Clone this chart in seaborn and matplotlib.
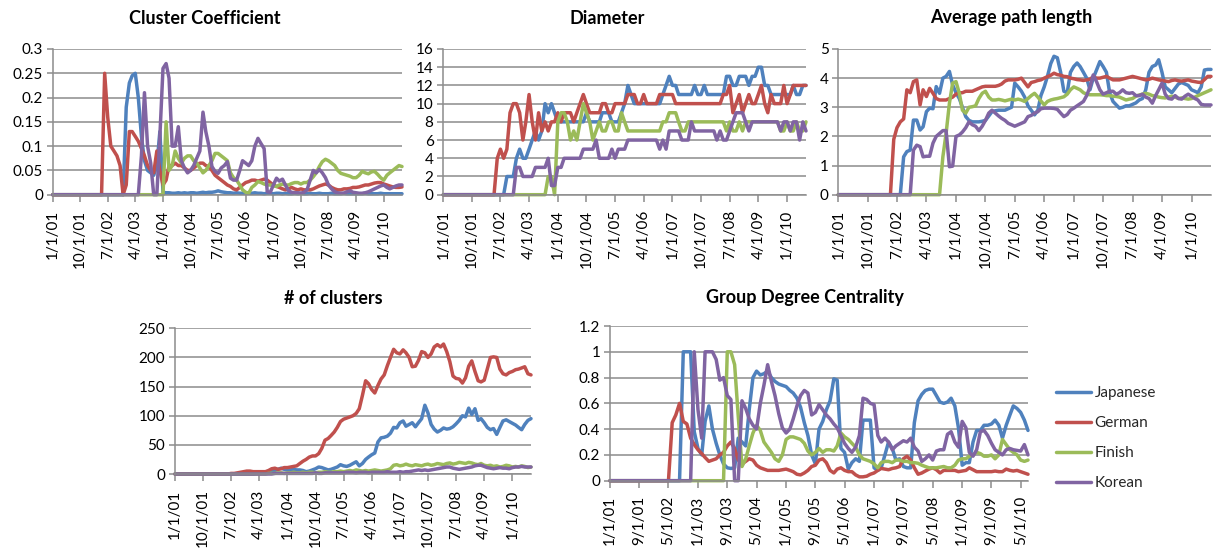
import numpy as np
import pandas as pd
import matplotlib
matplotlib.use('Agg')
import matplotlib.pyplot as plt
import seaborn as sns
from matplotlib.lines import Line2D

# ---------------- data (monthly, 1/1/01 .. 7/1/10) ----------------
languages = ['Japanese', 'German', 'Finish', 'Korean']
colors = ['#4F81BD', '#C0504D', '#9BBB59', '#8064A2']

cc_jp = [0,0,0,0,0,0,0,0,0,0,
         0,0,0,0,0,0,0,0,0,0,
         0,0,0,0,0.18,0.23,0.245,0.25,0.2,0.12,
         0.07,0.05,0.045,0.04,0.06,0.13,0.005,0.004,0.004,0.003,
         0.003,0.004,0.003,0.004,0.003,0.004,0.004,0.003,0.004,0.005,
         0.004,0.005,0.005,0.006,0.008,0.006,0.005,0.004,0.004,0.003,
         0.004,0.003,0.003,0.004,0.003,0.003,0.004,0.003,0.003,0.002,
         0.003,0.003,0.002,0.003,0.003,0.002,0.003,0.002,0.002,0.003,
         0.002,0.003,0.002,0.002,0.003,0.002,0.002,0.003,0.002,0.002,
         0.002,0.003,0.002,0.002,0.002,0.003,0.002,0.002,0.002,0.002,
         0.002,0.002,0.003,0.002,0.002,0.002,0.002,0.003,0.002,0.002,
         0.002,0.002,0.002,0.002,0.002]
cc_de = [0,0,0,0,0,0,0,0,0,0,
         0,0,0,0,0,0,0,0.25,0.16,0.1,
         0.09,0.08,0.06,0.0,0.02,0.13,0.13,0.12,0.11,0.095,
         0.08,0.06,0.05,0.045,0.09,0.05,0.02,0.03,0.06,0.06,
         0.065,0.06,0.06,0.055,0.05,0.05,0.055,0.06,0.065,0.065,
         0.06,0.058,0.05,0.04,0.035,0.03,0.025,0.02,0.017,0.012,
         0.01,0.015,0.02,0.025,0.027,0.03,0.03,0.028,0.03,0.032,
         0.03,0.025,0.02,0.017,0.015,0.012,0.01,0.012,0.015,0.012,
         0.01,0.012,0.01,0.01,0.01,0.012,0.015,0.018,0.02,0.022,
         0.02,0.015,0.012,0.01,0.01,0.012,0.012,0.013,0.015,0.015,
         0.016,0.018,0.02,0.02,0.022,0.024,0.025,0.025,0.022,0.02,
         0.018,0.016,0.015,0.015,0.016]
cc_fi = [0,0,0,0,0,0,0,0,0,0,
         0,0,0,0,0,0,0,0,0,0,
         0,0,0,0,0,0,0,0,0,0,
         0,0,0,0,0,0,0,0.15,0.05,0.06,
         0.09,0.075,0.065,0.075,0.08,0.08,0.07,0.065,0.055,0.045,
         0.05,0.06,0.07,0.085,0.085,0.08,0.075,0.07,0.045,0.035,
         0.03,0.02,0.01,0.005,0.003,0.015,0.02,0.027,0.025,0.022,
         0.02,0.02,0.018,0.017,0.02,0.022,0.02,0.02,0.023,0.025,
         0.025,0.022,0.025,0.025,0.03,0.037,0.045,0.058,0.068,0.073,
         0.07,0.065,0.06,0.05,0.044,0.042,0.04,0.038,0.035,0.035,
         0.04,0.048,0.045,0.043,0.047,0.048,0.042,0.035,0.03,0.04,
         0.045,0.05,0.055,0.06,0.058]
cc_kr = [0,0,0,0,0,0,0,0,0,0,
         0,0,0,0,0,0,0,0,0,0,
         0,0,0,0,0,0,0,0,0,0.08,
         0.21,0.1,0.065,0.0,0.0,0.12,0.26,0.27,0.24,0.1,
         0.1,0.14,0.07,0.055,0.045,0.05,0.06,0.075,0.09,0.17,
         0.13,0.1,0.058,0.048,0.044,0.055,0.06,0.068,0.034,0.03,
         0.03,0.05,0.07,0.065,0.06,0.07,0.1,0.116,0.105,0.095,
         0.006,0.005,0.02,0.034,0.028,0.032,0.02,0.008,0.005,0.004,
         0.004,0.003,0.005,0.01,0.03,0.05,0.045,0.052,0.045,0.035,
         0.02,0.012,0.006,0.004,0.003,0.003,0.006,0.008,0.005,0.004,
         0.003,0.003,0.004,0.006,0.009,0.012,0.015,0.018,0.02,0.015,
         0.012,0.015,0.018,0.02,0.02]

dia_jp = [0,0,0,0,0,0,0,0,0,0,
          0,0,0,0,0,0,0,0,0,0,
          2,2,2,4,5,4,4,5,6,7,
          6,7,10,9,10,9,8,8,8,8,
          8,8,8,8,8,9,8,8,8,8,
          9,9,9,8,8,8,9,10,12,11,
          10,10,10,10,10,10,10,10,10,11,
          12,13,12,12,11,11,11,11,11,12,
          11,11,12,11,11,11,11,11,11,13,
          13,12,12,13,13,13,12,13,13,14,
          14,12,12,11,11,11,11,11,11,11,
          12,11,11,12,12]
dia_de = [0,0,0,0,0,0,0,0,0,0,
          0,0,0,0,0,0,0,4,5,4,
          5,9,10,10,9,6,8,11,8,6,
          9,7,8,7,8,8,9,8,9,9,
          9,8,9,10,11,10,9,9,9,9,
          10,10,9,9,10,10,10,10,11,11,
          11,10,10,11,10,10,10,10,11,11,
          11,11,11,10,10,10,10,10,10,10,
          10,10,10,10,10,10,10,10,11,11,
          12,9,10,11,9,10,11,10,10,11,
          12,10,9,11,10,10,10,12,10,11,
          12,12,12,12,12]
dia_fi = [0,0,0,0,0,0,0,0,0,0,
          0,0,0,0,0,0,0,0,0,0,
          0,0,0,0,0,0,0,0,0,0,
          0,0,0,2,2,0,8,9,9,8,
          6,7,6,8,10,9,8,6,7,8,
          7,7,8,8,7,7,9,8,7,7,
          7,7,7,7,7,7,7,7,7,8,
          8,9,9,9,8,7,7,8,8,8,
          8,8,8,8,8,8,8,8,8,7,
          8,7,7,8,7,8,8,8,8,8,
          8,8,8,8,8,8,7,7,8,7,
          7,8,7,7,8]
dia_kr = [0,0,0,0,0,0,0,0,0,0,
          0,0,0,0,0,0,0,0,0,0,
          0,0,0,3,3,2,2,2,2,3,
          3,3,3,4,1,1,3,3,4,4,
          4,4,4,4,5,5,5,5,6,4,
          4,4,4,5,4,5,5,5,6,6,
          6,6,6,6,6,6,6,6,5,6,
          5,7,7,7,7,6,6,6,8,7,
          7,7,7,7,7,7,6,7,6,6,
          7,8,9,9,9,8,7,8,8,8,
          8,8,8,8,8,8,7,8,8,7,
          8,8,6,8,7]

apl_jp = [0,0,0,0,0,0,0,0,0,0,
          0,0,0,0,0,0,0,0,0,0,
          1.3,1.48,1.53,2.56,2.56,2.22,2.33,2.85,2.97,2.95,
          3.71,3.48,4.0,4.06,4.23,3.77,3.5,3.3,3.0,2.68,
          2.55,2.5,2.5,2.5,2.52,2.55,2.7,2.85,2.88,2.9,
          2.9,2.9,2.95,3.0,3.83,3.7,3.55,3.35,3.05,2.9,
          2.74,2.9,3.4,3.7,4.06,4.5,4.75,4.7,4.2,3.55,
          3.5,4.2,4.4,4.52,4.4,4.2,4.0,3.6,4.0,4.28,
          4.57,4.4,4.2,3.5,3.2,3.08,2.97,3.0,3.05,3.05,
          3.1,3.15,3.25,3.3,3.6,4.2,4.4,4.45,4.63,4.2,
          3.7,3.6,3.5,3.65,3.8,3.85,3.8,3.75,3.6,3.55,
          3.5,3.7,4.28,4.3,4.3]
apl_de = [0,0,0,0,0,0,0,0,0,0,
          0,0,0,0,0,0,0,1.9,2.3,2.5,
          2.6,3.6,3.5,3.88,3.94,3.08,3.6,3.37,3.65,3.48,
          3.3,3.25,3.25,3.25,3.3,3.35,3.45,3.5,3.5,3.55,
          3.55,3.55,3.6,3.65,3.7,3.72,3.72,3.72,3.72,3.75,
          3.8,3.9,3.94,3.94,3.94,3.96,4.0,3.85,3.7,3.85,
          3.88,3.92,3.94,4.0,4.05,4.1,4.17,4.12,4.1,4.06,
          4.05,4.0,3.98,3.95,3.94,3.92,3.94,3.96,4.05,4.0,
          4.0,4.03,4.06,4.0,3.94,3.94,3.94,3.97,4.0,4.03,
          4.06,4.03,4.0,3.97,3.94,3.96,4.0,3.97,3.94,3.92,
          3.9,3.88,3.92,3.94,3.91,3.9,3.92,3.94,3.9,3.88,
          3.86,3.85,3.95,4.06,4.06]
apl_fi = [0,0,0,0,0,0,0,0,0,0,
          0,0,0,0,0,0,0,0,0,0,
          0,0,0,0,0,0,0,0,0,0,
          0,0,1.3,2.1,3.14,3.83,3.88,3.48,2.9,2.8,
          3.0,3.02,3.05,3.3,3.48,3.55,3.35,3.25,3.25,3.27,
          3.25,3.22,3.25,3.28,3.25,3.28,3.25,3.2,3.3,3.4,
          3.48,3.35,3.22,3.08,3.2,3.25,3.28,3.3,3.33,3.36,
          3.45,3.6,3.7,3.65,3.6,3.5,3.45,3.43,3.43,3.43,
          3.43,3.42,3.4,3.4,3.38,3.37,3.35,3.3,3.25,3.28,
          3.3,3.38,3.42,3.45,3.48,3.45,3.4,3.38,3.35,3.33,
          3.32,3.35,3.38,3.35,3.3,3.32,3.3,3.28,3.3,3.35,
          3.4,3.45,3.5,3.55,3.6]
apl_kr = [0,0,0,0,0,0,0,0,0,0,
          0,0,0,0,0,0,0,0,0,0,
          0,0,0,1.53,1.7,1.65,1.3,1.32,1.32,1.77,
          2.0,2.1,2.2,2.2,0.96,0.98,2.0,2.05,2.15,2.3,
          2.5,2.4,2.35,2.2,2.35,2.55,2.8,2.9,2.8,2.7,
          2.62,2.55,2.45,2.4,2.35,2.4,2.45,2.5,2.68,2.72,
          2.8,2.85,2.95,2.97,2.97,2.97,2.96,2.93,2.8,2.68,
          2.75,2.9,2.97,3.05,3.12,3.2,3.4,3.7,4.11,3.88,
          3.6,3.45,3.5,3.55,3.55,3.45,3.5,3.6,3.5,3.48,
          3.5,3.4,3.4,3.45,3.35,3.3,3.14,3.4,3.6,3.83,
          3.45,3.3,3.28,3.4,3.3,3.28,3.38,3.45,3.38,3.3,
          3.25,3.1,3.08,3.08,3.08]

nc_jp = [0,0,0,0,0,0,0,0,0,0,
         0,0,0,0,0,0,0,0,0,0,
         0,0,0,0,0,0,1,2,2,3,
         3,4,6,8,10,8,7,7,8,7,
         7,6,4,5,7,9,12,11,9,7,
         8,10,12,16,14,13,15,18,21,14,
         18,25,29,33,36,55,62,63,65,70,
         80,79,88,91,82,85,88,81,88,95,
         118,105,85,77,72,75,79,77,78,81,
         86,92,100,98,113,102,112,92,95,88,
         80,76,78,68,80,91,93,90,87,84,
         80,76,85,92,95]
nc_de = [0,0,0,0,0,0,0,0,0,0,
         0,0,0,0,0,0,0,0,1,1,
         2,3,4,5,5,4,4,4,4,4,
         6,9,10,8,9,11,11,12,13,14,
         18,22,25,29,31,31,35,44,58,61,
         66,72,80,90,94,96,98,100,104,112,
         135,160,155,145,139,152,163,170,186,200,
         214,208,206,213,208,200,184,185,195,210,
         208,200,206,218,222,218,223,210,193,168,
         164,163,156,165,185,194,176,160,158,161,
         180,200,201,200,180,172,170,174,176,179,
         180,182,184,172,170]
nc_fi = [0,0,0,0,0,0,0,0,0,0,
         0,0,0,0,0,0,0,0,0,0,
         0,0,0,0,0,0,0,0,0,0,
         1,1,1,2,2,1,2,2,3,2,
         2,3,2,3,3,2,3,3,4,3,
         3,4,4,5,4,5,6,5,7,6,
         5,6,5,6,7,6,5,6,7,9,
         15,16,14,15,17,15,14,16,15,14,
         16,17,15,16,18,17,16,18,19,17,
         18,20,19,18,20,19,17,16,18,15,
         14,15,13,14,12,13,15,14,12,13,
         12,14,13,11,12]
nc_kr = [0,0,0,0,0,0,0,0,0,0,
         0,0,0,0,0,0,0,0,0,0,
         0,0,0,0,0,0,0,0,0,0,
         0,0,1,1,1,1,1,1,1,1,
         1,1,1,1,1,2,1,1,2,2,
         2,2,2,2,2,3,3,3,2,3,
         3,3,2,3,3,3,3,3,4,3,
         3,3,4,3,4,4,5,6,7,6,
         7,6,7,8,9,10,11,12,12,10,
         9,8,9,10,11,12,14,15,15,13,
         11,10,9,10,11,10,10,9,11,12,
         12,13,12,12,12]

gdc_jp = [0,0,0,0,0,0,0,0,0,0,
          0,0,0,0,0,0,0,0,0,0,
          1.0,1.0,1.0,0.38,0.25,0.2,0.46,0.58,0.4,0.29,
          0.2,0.13,0.1,0.095,0.1,0.33,0.3,0.27,0.55,0.8,
          0.85,0.82,0.83,0.85,0.8,0.77,0.75,0.74,0.73,0.7,
          0.68,0.64,0.57,0.45,0.35,0.2,0.13,0.4,0.46,0.55,
          0.62,0.79,0.78,0.25,0.22,0.09,0.14,0.17,0.15,0.47,
          0.47,0.47,0.1,0.08,0.1,0.2,0.3,0.25,0.16,0.17,
          0.11,0.1,0.1,0.45,0.62,0.67,0.7,0.71,0.71,0.66,
          0.61,0.6,0.61,0.64,0.58,0.41,0.12,0.14,0.14,0.3,
          0.39,0.39,0.43,0.43,0.44,0.47,0.43,0.33,0.43,0.51,
          0.58,0.56,0.53,0.47,0.39]
gdc_de = [0,0,0,0,0,0,0,0,0,0,
          0,0,0,0,0,0,0,0.45,0.51,0.6,
          0.46,0.44,0.33,0.28,0.24,0.21,0.18,0.15,0.16,0.17,
          0.2,0.22,0.27,0.3,0.25,0.16,0.13,0.15,0.17,0.16,
          0.12,0.1,0.09,0.08,0.08,0.08,0.08,0.085,0.09,0.08,
          0.07,0.05,0.045,0.06,0.08,0.11,0.12,0.16,0.17,0.14,
          0.08,0.06,0.09,0.1,0.08,0.07,0.07,0.045,0.03,0.03,
          0.035,0.05,0.06,0.08,0.095,0.09,0.085,0.095,0.1,0.11,
          0.17,0.19,0.16,0.1,0.05,0.06,0.075,0.09,0.1,0.085,
          0.06,0.08,0.08,0.08,0.08,0.07,0.075,0.08,0.1,0.085,
          0.07,0.07,0.07,0.07,0.07,0.075,0.07,0.07,0.09,0.08,
          0.075,0.08,0.07,0.06,0.05]
gdc_fi = [0,0,0,0,0,0,0,0,0,0,
          0,0,0,0,0,0,0,0,0,0,
          0,0,0,0,0,0,0,0,0,0,
          0,0,1.0,1.0,0.9,0.5,0.11,0.17,0.27,0.37,
          0.43,0.39,0.3,0.26,0.22,0.17,0.15,0.2,0.32,0.34,
          0.34,0.33,0.32,0.29,0.23,0.2,0.22,0.25,0.22,0.24,
          0.24,0.23,0.27,0.37,0.34,0.32,0.29,0.26,0.2,0.17,
          0.16,0.15,0.13,0.1,0.14,0.15,0.15,0.14,0.16,0.16,
          0.15,0.15,0.14,0.14,0.135,0.12,0.11,0.1,0.1,0.1,
          0.105,0.11,0.1,0.1,0.12,0.16,0.17,0.17,0.19,0.2,
          0.22,0.21,0.19,0.19,0.2,0.17,0.2,0.32,0.28,0.24,
          0.22,0.2,0.16,0.15,0.16]
gdc_kr = [0,0,0,0,0,0,0,0,0,0,
          0,0,0,0,0,0,0,0,0,0,
          0,0,0,1.0,0.55,0.33,1.0,1.0,1.0,0.94,
          0.78,0.8,0.66,0.63,0.0,0.0,0.62,0.56,0.48,0.43,
          0.4,0.6,0.74,0.9,0.77,0.66,0.52,0.41,0.37,0.4,
          0.48,0.58,0.66,0.7,0.68,0.51,0.53,0.59,0.55,0.51,
          0.48,0.44,0.41,0.35,0.29,0.25,0.22,0.26,0.35,0.64,
          0.63,0.6,0.59,0.35,0.3,0.33,0.3,0.24,0.27,0.29,
          0.31,0.3,0.33,0.26,0.23,0.15,0.17,0.2,0.16,0.23,
          0.24,0.24,0.36,0.38,0.3,0.26,0.46,0.41,0.22,0.19,
          0.24,0.38,0.39,0.35,0.29,0.24,0.22,0.2,0.24,0.25,
          0.24,0.235,0.23,0.28,0.2]

cc_ticks = [0, 0.05, 0.1, 0.15, 0.2, 0.25, 0.3]
cc_labels = ['0', '0.05', '0.1', '0.15', '0.2', '0.25', '0.3']
dia_ticks = [0, 2, 4, 6, 8, 10, 12, 14, 16]
apl_ticks = [0, 1, 2, 3, 4, 5]
nc_ticks = [0, 50, 100, 150, 200, 250]
gdc_ticks = [0, 0.2, 0.4, 0.6, 0.8, 1.0, 1.2]
gdc_labels = ['0', '0.2', '0.4', '0.6', '0.8', '1', '1.2']

titles = ['Cluster Coefficient', 'Diameter', 'Average path length',
          '# of clusters', 'Group Degree Centrality']

# ---------------- figure ----------------
dates = pd.date_range('2001-01-01', periods=len(cc_jp), freq='MS')

sns.set_theme(style='white')
plt.rcParams['font.family'] = ['Lato', 'DejaVu Sans']

W, H = 1214, 548
fig = plt.figure(figsize=(W / 100, H / 100), dpi=100)
GRAY = '#8C8C8C'


def make_axes(x0, x1, ytop, ybot):
    return fig.add_axes([x0 / W, 1 - ybot / H, (x1 - x0) / W, (ybot - ytop) / H])


def fmt(d):
    return f"{d.month}/{d.day}/{d.year % 100:02d}"


panels = [
    dict(series=[cc_jp, cc_de, cc_fi, cc_kr], box=(52.7, 402, 49, 194.7),
         yt=cc_ticks, yl=cc_labels, step=9, title=titles[0], tpos=(205, 18)),
    dict(series=[dia_jp, dia_de, dia_fi, dia_kr], box=(443.3, 806, 49, 194.7),
         yt=dia_ticks, yl=[str(t) for t in dia_ticks], step=9, title=titles[1], tpos=(607, 18)),
    dict(series=[apl_jp, apl_de, apl_fi, apl_kr], box=(838.3, 1211, 49, 194.7),
         yt=apl_ticks, yl=[str(t) for t in apl_ticks], step=9, title=titles[2], tpos=(1011, 18)),
    dict(series=[nc_jp, nc_de, nc_fi, nc_kr], box=(175, 531, 328.3, 474),
         yt=nc_ticks, yl=[str(t) for t in nc_ticks], step=9, title=titles[3], tpos=(333, 298)),
    dict(series=[gdc_jp, gdc_de, gdc_fi, gdc_kr], box=(610, 1028, 326, 480.7),
         yt=gdc_ticks, yl=gdc_labels, step=8, title=titles[4], tpos=(805, 298)),
]

for p in panels:
    ax = make_axes(*p['box'])
    frames = []
    for lang, vals in zip(languages, p['series']):
        frames.append(pd.DataFrame({'date': dates, 'value': vals, 'lang': lang}))
    df = pd.concat(frames, ignore_index=True)
    sns.lineplot(data=df, x='date', y='value', hue='lang', hue_order=languages,
                 palette=colors, linewidth=2.5, legend=False, ax=ax,
                 estimator=None, sort=True)
    for ln in ax.lines:
        ln.set_clip_on(False)
        ln.set_solid_joinstyle('round')
    ax.set_xlim(dates[0], dates[-1])
    ax.set_ylim(p['yt'][0], p['yt'][-1])
    ax.set_yticks(p['yt'])
    ax.set_yticklabels(p['yl'])
    tick_dates = dates[::p['step']]
    ax.set_xticks(tick_dates)
    ax.set_xticklabels([fmt(d) for d in tick_dates], rotation=90)
    ax.set_xlabel('')
    ax.set_ylabel('')
    ax.grid(axis='y', color=GRAY, linewidth=1.1)
    ax.grid(axis='x', visible=False)
    ax.set_axisbelow(True)
    for s in ['top', 'right']:
        ax.spines[s].set_visible(False)
    for s in ['left', 'bottom']:
        ax.spines[s].set_color(GRAY)
        ax.spines[s].set_linewidth(1.1)
    ax.tick_params(axis='x', direction='out', length=5, width=1.1, color=GRAY,
                   labelsize=11, pad=6, labelcolor='black', bottom=True)
    ax.tick_params(axis='y', direction='out', length=4, width=1.1, color=GRAY,
                   labelsize=11, pad=3, labelcolor='black', left=True)
    fig.text(p['tpos'][0] / W, 1 - p['tpos'][1] / H, p['title'], ha='center',
             va='center', fontsize=13, fontweight='bold', color='black')

handles = [Line2D([0], [0], color=c, lw=2.5) for c in colors]
fig.legend(handles=handles, labels=languages, loc='upper left',
           bbox_to_anchor=(1049.5 / W, 1 - 380 / H), frameon=False,
           fontsize=11, handlelength=2.3, handletextpad=0.25,
           labelspacing=1.05, borderaxespad=0)

fig.savefig('out.png', dpi=100)
